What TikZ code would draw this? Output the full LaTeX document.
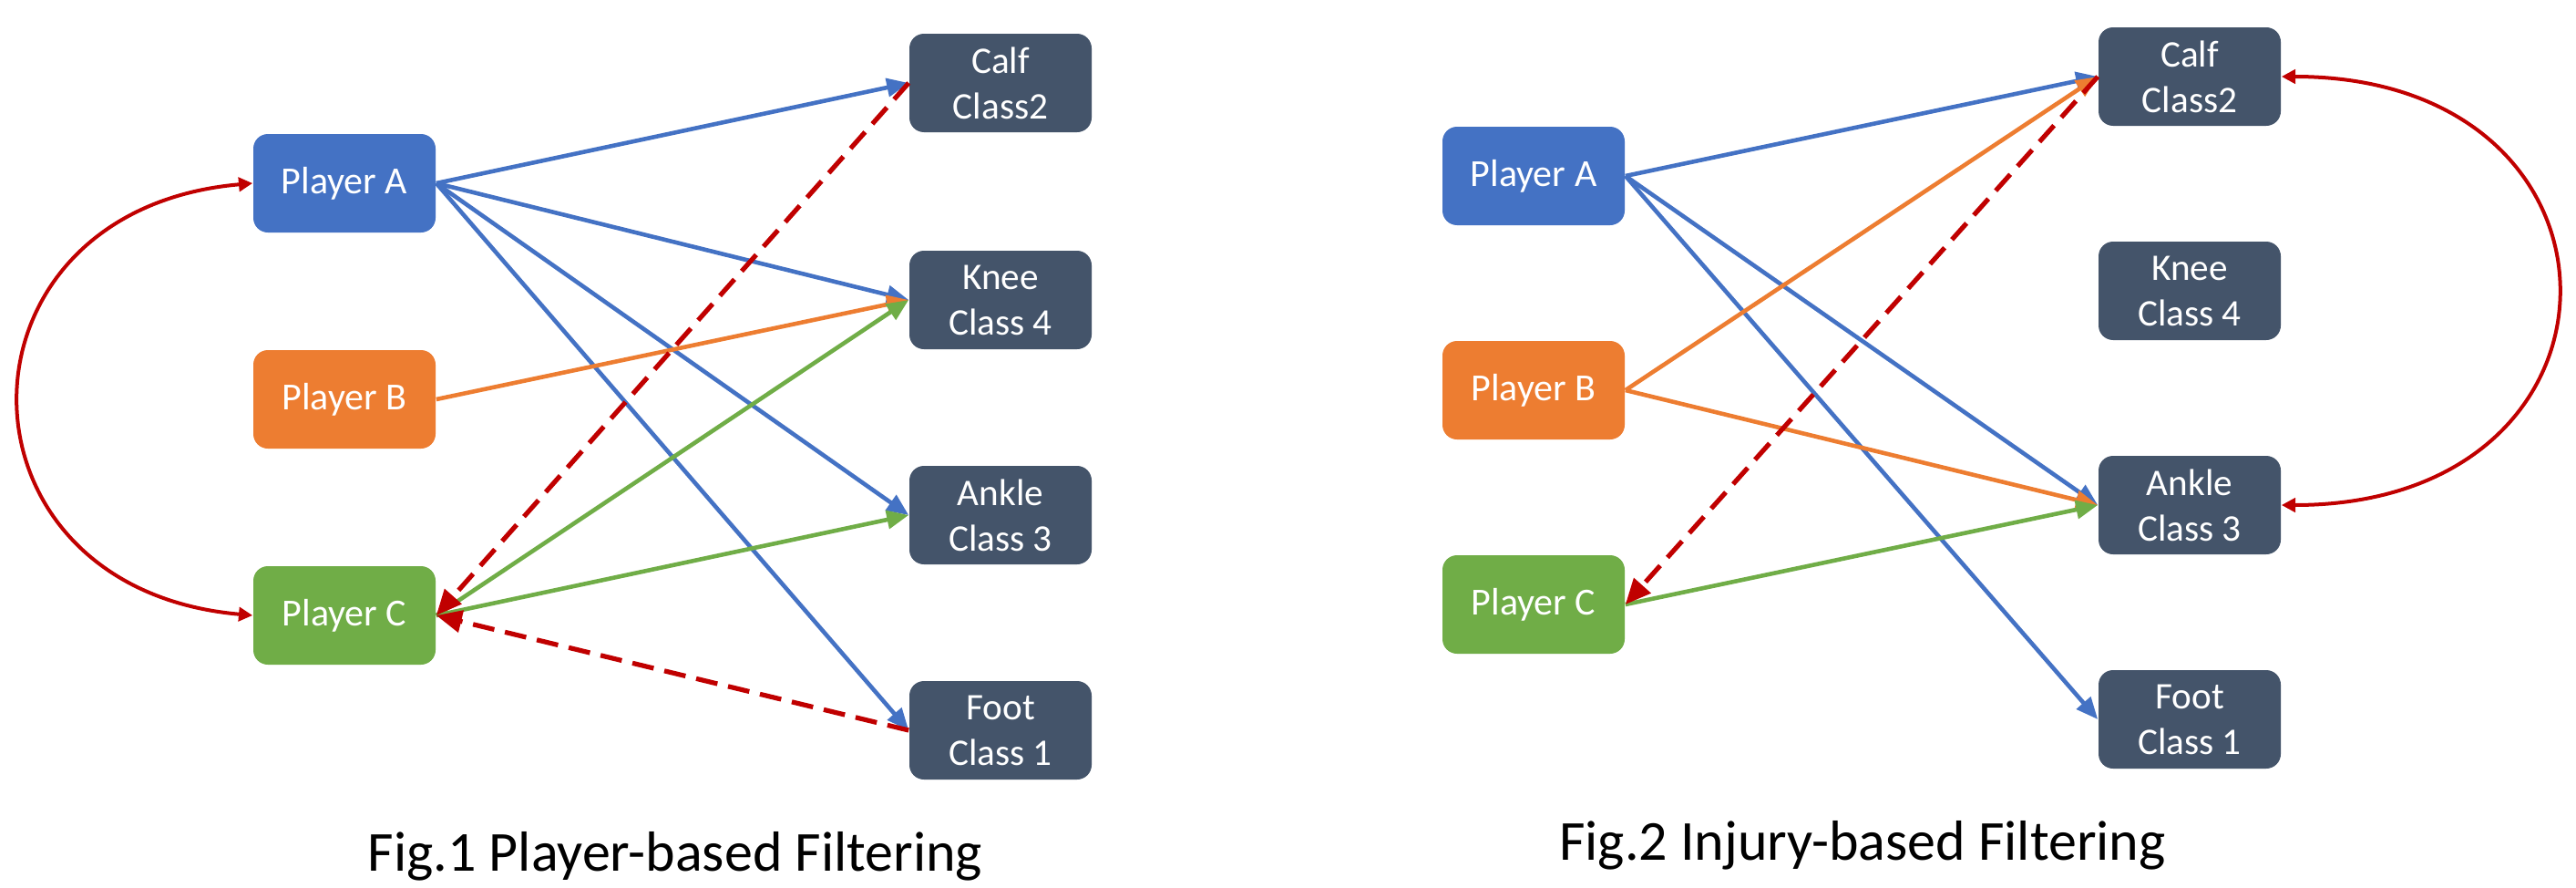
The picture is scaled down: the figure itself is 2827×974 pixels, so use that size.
\documentclass[tikz,border=0pt]{standalone}
\usepackage{fontspec}
\setmainfont{Carlito}
\usetikzlibrary{arrows.meta}
\definecolor{pblue}{HTML}{4472C4}
\definecolor{porange}{HTML}{ED7D31}
\definecolor{pgreen}{HTML}{70AD47}
\definecolor{pdark}{HTML}{44546A}
\definecolor{pred}{HTML}{C00000}
\begin{document}
\begin{tikzpicture}[x=0.25pt,y=-0.25pt,
  box/.style={rounded corners=4pt, minimum width=50pt, minimum height=27pt, text=white,
    font=\fontsize{10.5}{12.5}\selectfont, align=center, inner sep=0pt},
  pa/.style={box, fill=pblue},
  pb/.style={box, fill=porange},
  pc/.style={box, fill=pgreen},
  inj/.style={box, fill=pdark, font=\fontsize{10.3}{12.5}\selectfont},
  conn/.style={line width=1.15pt, -{Triangle[length=6pt,width=5pt]}},
  bl/.style={conn, draw=pblue},
  og/.style={conn, draw=porange},
  gr/.style={conn, draw=pgreen},
  rd/.style={draw=pred, line width=1.3pt, dash pattern=on 6pt off 3pt, -{Triangle[length=7pt,width=6pt]}},
  arcc/.style={draw=pred, line width=1pt, {Triangle[length=3.8pt,width=3.8pt]}-{Triangle[length=3.8pt,width=3.8pt]}},
  figtitle/.style={font=\fontsize{15.5}{18}\selectfont, anchor=base}
]
\useasboundingbox (0,0) rectangle (2827,974);

% Fig.1
\node[pa] (A1) at (378,201) {Player A};
\node[pb] (B1) at (378,438) {Player B};
\node[pc] (C1) at (378,675) {Player C};
\node[inj] (Ca1) at (1098,91) {Calf\\Class2};
\node[inj] (Kn1) at (1098,329) {Knee\\Class 4};
\node[inj] (An1) at (1098,565) {Ankle\\Class 3};
\node[inj] (Fo1) at (1098,801) {Foot\\Class 1};

\draw[bl] (A1.east) -- (Ca1.west);
\draw[bl] (A1.east) -- (Kn1.west);
\draw[bl] (A1.east) -- (An1.west);
\draw[bl] (A1.east) -- (Fo1.west);
\draw[og] (B1.east) -- (Kn1.west);
\draw[gr] (C1.east) -- (Kn1.west);
\draw[gr] (C1.east) -- (An1.west);
\draw[rd] (Ca1.west) -- (C1.east);
\draw[rd] (Fo1.west) -- (C1.east);
\draw[arcc] (A1.west) to[out=185,in=175,looseness=1.85] (C1.west);

\node[figtitle] (T1) at (741,955) {Fig.1 Player-based Filtering};

% Fig.2
\node[pa] (A2) at (1683,193) {Player A};
\node[pb] (B2) at (1683,428) {Player B};
\node[pc] (C2) at (1683,663) {Player C};
\node[inj] (Ca2) at (2403,84) {Calf\\Class2};
\node[inj] (Kn2) at (2403,319) {Knee\\Class 4};
\node[inj] (An2) at (2403,554) {Ankle\\Class 3};
\node[inj] (Fo2) at (2403,789) {Foot\\Class 1};

\draw[bl] (A2.east) -- (Ca2.west);
\draw[bl] (A2.east) -- (An2.west);
\draw[bl] (A2.east) -- (Fo2.west);
\draw[og] (B2.east) -- (Ca2.west);
\draw[og] (B2.east) -- (An2.west);
\draw[gr] (C2.east) -- (An2.west);
\draw[rd] (Ca2.west) -- (C2.east);
\draw[arcc] (Ca2.east) to[out=0,in=0,looseness=2.2] (An2.east);

\node[figtitle] (T2) at (2044,943) {Fig.2 Injury-based Filtering};
\end{tikzpicture}
\end{document}
